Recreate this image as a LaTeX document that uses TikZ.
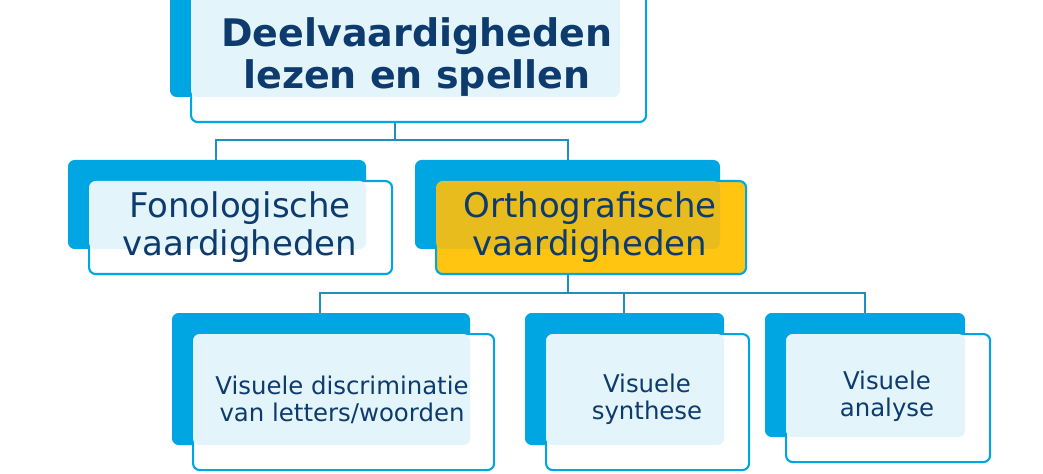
\documentclass[tikz,border=0pt]{standalone}
\usepackage{fontspec}
\setmainfont{DejaVu Sans}
\begin{document}
\begin{tikzpicture}[x=0.75pt,y=-0.75pt,
  back/.style={fill=cBlue,rounded corners=5pt},
  front/.style={draw=cBlue,line width=1.6pt,fill=white,rounded corners=5pt,inner sep=0pt},
  inter/.style={fill=cLight,rounded corners=5pt},
  conn/.style={draw=cLine,line width=1.2pt},
  txt/.style={text=cNavy,align=center,inner sep=0pt}]
\definecolor{cBlue}{HTML}{00A6E2}
\definecolor{cLight}{HTML}{E3F4FA}
\definecolor{cLine}{HTML}{1E90C0}
\definecolor{cNavy}{HTML}{0D3B6E}
\definecolor{cGold}{HTML}{FFC510}
\definecolor{cGoldD}{HTML}{E8BC1C}
\useasboundingbox (0,0) rectangle (1043,474);
\newcommand{\dbox}[9]{%
  \fill[back] (#2,#3) rectangle (#4,#5);
  \node[front,fill=#8,minimum width=(#6-#2-20)*0.75pt,minimum height=(#7-#3-20)*0.75pt,anchor=north west] (#1) at (#2+20,#3+20) {};
  \fill[inter,fill=#9] (#2+21,#3+21) rectangle (#4,#5);}
\dbox{top}{170}{-30}{620}{97}{645}{121}{white}{cLight}
\dbox{fon}{68}{160}{366}{249}{391}{273}{white}{cLight}
\dbox{ort}{415}{160}{720}{249}{745}{273}{cGold}{cGoldD}
\dbox{vdis}{172}{313}{470}{445}{493}{469}{white}{cLight}
\dbox{vsyn}{525}{313}{724}{445}{748}{469}{white}{cLight}
\dbox{vana}{765}{313}{965}{437}{989}{461}{white}{cLight}
\node[txt,font=\bfseries\fontsize{28.5}{32}\selectfont] (ttop) at (417,57) {Deelvaardigheden\\lezen en spellen};
\node[txt,font=\fontsize{25.5}{28}\selectfont] (tfon) at (240,227) {Fonologische\\vaardigheden};
\node[txt,font=\fontsize{25.5}{28}\selectfont] (tort) at (590,227) {Orthografische\\vaardigheden};
\node[txt,font=\fontsize{18.3}{20.5}\selectfont] (tvdis) at (342,400) {Visuele discriminatie\\van letters/woorden};
\node[txt,font=\fontsize{18.3}{20.5}\selectfont] (tvsyn) at (647,399) {Visuele\\synthese};
\node[txt,font=\fontsize{18.3}{20.5}\selectfont] (tvana) at (887,396) {Visuele\\analyse};
\coordinate (j1) at (395,140);
\coordinate (j2) at (568,293);
\draw[conn] (top.south -| j1) -- (j1) -- (216,140) -- (216,160);
\draw[conn] (j1) -- (568,140) -- (568,160);
\draw[conn] (ort.south -| j2) -- (j2) -- (320,293) -- (320,313);
\draw[conn] (j2) -- (624,293) -- (624,313);
\draw[conn] (j2) -- (865,293) -- (865,313);
\end{tikzpicture}
\end{document}
